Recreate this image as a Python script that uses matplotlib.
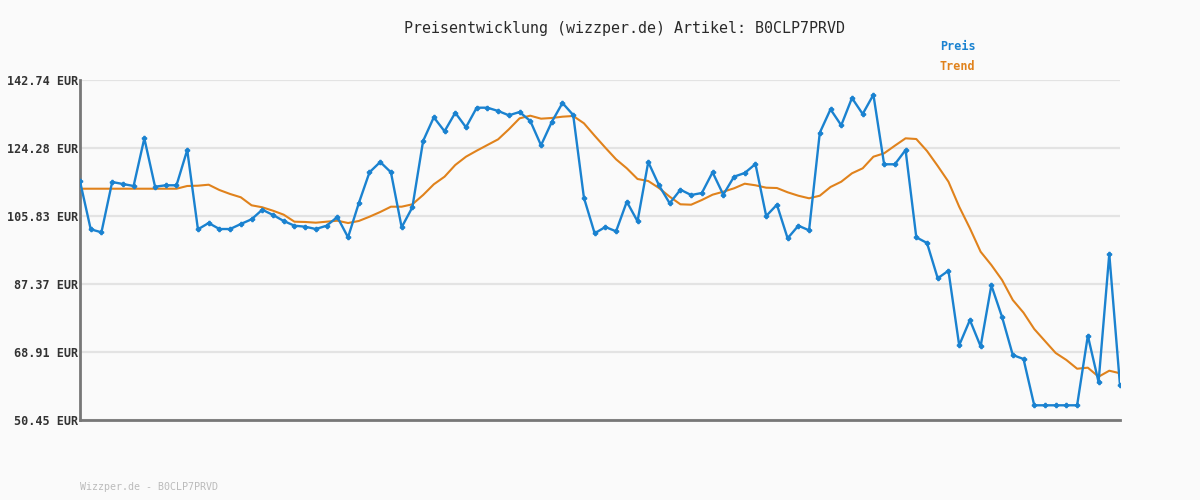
import matplotlib
matplotlib.use("Agg")
import matplotlib.pyplot as plt
import numpy as np

preis = [115.24, 102.21, 101.40, 115.05, 114.51, 113.97, 126.91, 113.78, 114.16, 114.16,
         123.74, 102.21, 103.92, 102.29, 102.29, 103.65, 104.93, 107.53, 106.10, 104.47,
         103.19, 102.92, 102.29, 103.19, 105.55, 100.04, 109.27, 117.69, 120.48, 117.69,
         102.76, 108.19, 126.18, 132.62, 128.82, 133.86, 129.90, 135.22, 135.22, 134.33,
         133.16, 134.05, 131.61, 125.02, 131.34, 136.50, 133.24, 110.79, 101.13, 102.84,
         101.67, 109.71, 104.39, 120.48, 114.16, 109.27, 112.96, 111.52, 112.07, 117.69,
         111.61, 116.49, 117.50, 119.94, 105.82, 108.89, 99.77, 103.19, 101.94, 128.43,
         134.79, 130.44, 137.85, 133.51, 138.75, 119.86, 119.86, 123.74, 100.04, 98.50,
         88.91, 90.98, 70.73, 77.59, 70.45, 87.01, 78.41, 68.09, 67.01, 54.44,
         54.44, 54.44, 54.44, 54.44, 73.33, 60.76, 95.51, 59.87]

trend = [113.23, 113.23, 113.23, 113.23, 113.23, 113.23, 113.23, 113.23, 113.23, 113.23,
         113.97, 114.05, 114.32, 112.88, 111.80, 110.90, 108.73, 108.19, 107.26, 106.18,
         104.28, 104.20, 104.01, 104.28, 104.55, 103.92, 104.47, 105.63, 106.91, 108.35,
         108.35, 109.00, 111.52, 114.43, 116.49, 119.67, 121.92, 123.55, 125.10, 126.64,
         129.36, 132.34, 133.05, 132.24, 132.43, 132.78, 132.97, 130.99, 127.62, 124.36,
         121.21, 118.77, 115.87, 115.32, 113.42, 111.06, 109.00, 108.89, 110.17, 111.61,
         112.42, 113.34, 114.59, 114.16, 113.51, 113.42, 112.26, 111.33, 110.63, 111.33,
         113.70, 115.13, 117.41, 118.77, 121.92, 122.84, 124.91, 126.91, 126.72, 123.47,
         119.40, 115.13, 108.35, 102.49, 96.13, 92.52, 88.45, 83.02, 79.58, 75.15,
         71.89, 68.64, 66.74, 64.37, 64.65, 62.20, 63.83, 63.13]

yticks = [50.45, 68.91, 87.37, 105.83, 124.28, 142.74]
artikel = "B0CLP7PRVD"

bg = "#fafafa"
blue = "#1a82d0"
orange = "#e0821c"
mono = "DejaVu Sans Mono"

fig = plt.figure(figsize=(12, 5), dpi=100, facecolor=bg)
ax = fig.add_axes([80 / 1200, 0.16, 1040 / 1200, 0.68], facecolor=bg)

x = np.arange(len(preis))
ax.plot(x, trend, color=orange, lw=1.5, zorder=3)
ax.plot(x, preis, color=blue, lw=1.7, marker="P", markersize=3, zorder=4)

ax.set_xlim(0, len(preis) - 1)
ax.set_ylim(yticks[0], yticks[-1])
ax.set_yticks(yticks)
ax.set_yticklabels([f"{v:.2f} EUR" for v in yticks], fontfamily=mono,
                   fontsize=8.5, fontweight="bold", color="#333333")
ax.set_xticks([])
ax.tick_params(axis="y", length=0, pad=1)
ax.grid(axis="y", color="#e3e3e3", lw=1.6, zorder=0)

for s in ["top", "right"]:
    ax.spines[s].set_visible(False)
for s in ["left", "bottom"]:
    ax.spines[s].set_color("#777777")
    ax.spines[s].set_linewidth(2)

fig.text(624 / 1200, 1 - 28 / 500, f"Preisentwicklung (wizzper.de) Artikel: {artikel}",
         ha="center", va="center", fontfamily=mono, fontsize=10.8, color="#2a2a2a")
fig.text(940 / 1200, 1 - 47 / 500, "Preis", ha="left", va="center",
         fontfamily=mono, fontsize=8.5, fontweight="bold", color=blue)
fig.text(940 / 1200, 1 - 67 / 500, "Trend", ha="left", va="center",
         fontfamily=mono, fontsize=8.5, fontweight="bold", color=orange)
fig.text(80 / 1200, 1 - 487 / 500, f"Wizzper.de - {artikel}", ha="left", va="center",
         fontfamily=mono, fontsize=7.2, color="#bbbbbb")

fig.savefig("out.png", dpi=100, facecolor=bg)
